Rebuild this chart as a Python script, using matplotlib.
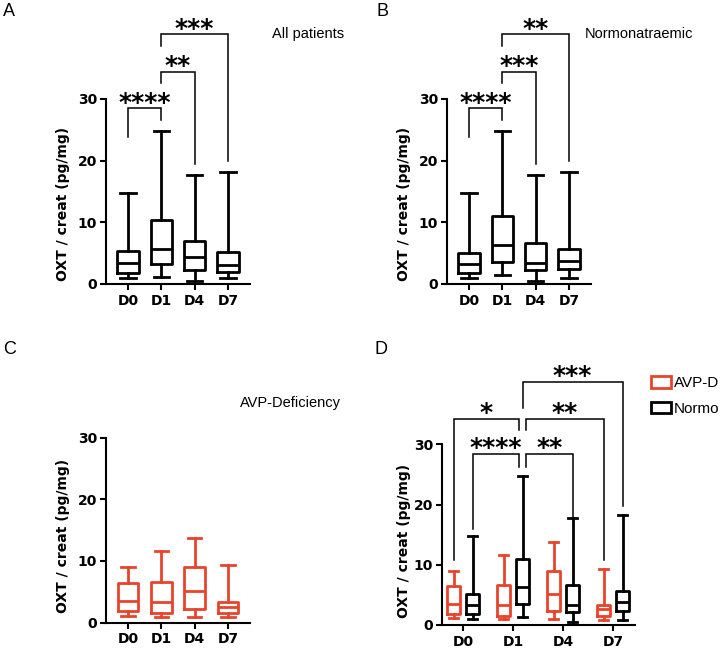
import matplotlib
matplotlib.use('Agg')
import matplotlib.pyplot as plt
from matplotlib.patches import Patch

plt.rcParams['font.family'] = ['Liberation Sans', 'DejaVu Sans']

days = ['D0', 'D1', 'D4', 'D7']
# per day: (min, q1, median, q3, max)
all_patients = [(1.0, 1.8, 3.4, 5.3, 14.8), (1.1, 3.3, 5.6, 10.3, 24.8),
                (0.5, 2.2, 4.3, 6.9, 17.7), (0.9, 1.9, 3.1, 5.2, 18.2)]
normo = [(1.0, 1.8, 3.3, 5.1, 14.8), (1.4, 3.5, 6.3, 11.0, 24.8),
         (0.5, 2.2, 3.4, 6.6, 17.7), (0.9, 2.4, 3.8, 5.7, 18.2)]
avp_d = [(1.1, 1.9, 3.5, 6.5, 9.0), (1.0, 1.5, 3.4, 6.6, 11.6),
         (1.0, 2.3, 5.2, 9.0, 13.8), (0.9, 1.5, 2.6, 3.3, 9.3)]

sig_all = ['****', '**', '***']      # D0-D1, D1-D4, D1-D7
sig_normo = ['****', '***', '**']
sig_mixed = ['*', '****', '**', '**', '***']

RED = '#E8432B'
BOLD = dict(fontfamily='DejaVu Sans', fontweight='bold')


def boxes(ax, stats, pos, color, width, capw):
    st = [dict(whislo=s[0], q1=s[1], med=s[2], q3=s[3], whishi=s[4], fliers=[]) for s in stats]
    props = dict(color=color, lw=2.0)
    ax.bxp(st, positions=pos, widths=width, capwidths=capw, showfliers=False,
           boxprops=props, whiskerprops=props, capprops=props, medianprops=props,
           manage_ticks=False)


def bracket(ax, x1, x2, top, y1, y2, label):
    ax.plot([x1, x1, x2, x2], [y1, top, top, y2], color='black', lw=1.1,
            clip_on=False, solid_joinstyle='miter')
    ax.annotate(label, ((x1 + x2) / 2, top), xytext=(0, -1), textcoords='offset points',
                ha='center', va='baseline', fontsize=18, annotation_clip=False, **BOLD)


def style(ax, xlim, ylim, label_xy):
    ax.set_xlim(*xlim)
    ax.set_ylim(*ylim)
    ax.patch.set_visible(False)
    for s in ['top', 'right']:
        ax.spines[s].set_visible(False)
    ax.spines['left'].set_bounds(0, 30)
    ax.spines['left'].set_linewidth(1.5)
    ax.spines['bottom'].set_linewidth(1.5)
    ax.set_yticks([0, 10, 20, 30])
    ax.set_xticks([1, 2, 3, 4])
    ax.set_xticklabels(days)
    ax.tick_params(axis='y', length=4.5, width=1.5, pad=2, labelsize=10)
    ax.tick_params(axis='x', length=4, width=1.5, pad=3, labelsize=10)
    for t in ax.get_xticklabels() + ax.get_yticklabels():
        t.set_fontfamily('DejaVu Sans')
        t.set_fontweight('bold')
    ax.set_ylabel('OXT / creat (pg/mg)', fontsize=10, **BOLD)
    ax.yaxis.set_label_coords(*label_xy)


W, H = 724, 648
fig = plt.figure(figsize=(W / 100, H / 100), dpi=100)


def axes_px(left, right, y0, ppu, ymax):
    return fig.add_axes([left / W, (H - y0) / H, (right - left) / W, ppu * ymax / H])


pos = [1, 2, 3, 4]

# A
axA = axes_px(106, 250, 284, 6.17, 45)
boxes(axA, all_patients, pos, 'black', 0.64, 0.46)
style(axA, (0.34, 4.66), (0, 45), (-0.25, 0.29))
bracket(axA, 1, 2, 28.5, 23.9, 26.5, sig_all[0])
bracket(axA, 2, 3, 34.4, 32.6, 19.4, sig_all[1])
bracket(axA, 2, 4, 40.5, 38.6, 20.0, sig_all[2])

# B
axB = axes_px(447, 591, 284, 6.17, 45)
boxes(axB, normo, pos, 'black', 0.64, 0.46)
style(axB, (0.34, 4.66), (0, 45), (-0.25, 0.29))
bracket(axB, 1, 2, 28.5, 23.9, 26.5, sig_normo[0])
bracket(axB, 2, 3, 34.4, 32.6, 19.4, sig_normo[1])
bracket(axB, 2, 4, 40.5, 38.6, 20.0, sig_normo[2])

# C
axC = axes_px(106, 250, 622.7, 6.17, 32)
boxes(axC, avp_d, pos, RED, 0.62, 0.40)
style(axC, (0.34, 4.66), (0, 32), (-0.25, 0.44))

# D
axD = axes_px(442, 635, 625, 6.02, 45)
off = 0.19
boxes(axD, avp_d, [p - off for p in pos], RED, 0.25, 0.17)
boxes(axD, normo, [p + off for p in pos], 'black', 0.25, 0.17)
style(axD, (0.58, 4.44), (0, 45), (-0.16, 0.31))
bracket(axD, 1 - off, 2.12, 34.3, 10.8, 32.4, sig_mixed[0])
bracket(axD, 1 + off, 2.12, 28.4, 16.0, 26.3, sig_mixed[1])
bracket(axD, 2.26, 3 + off, 28.4, 26.3, 17.4, sig_mixed[2])
bracket(axD, 2.26, 4 - off, 34.3, 32.4, 10.8, sig_mixed[3])
bracket(axD, 2 + off, 4 + off, 40.4, 36.0, 19.8, sig_mixed[4])

fig.legend(handles=[Patch(facecolor='white', edgecolor=RED, lw=2, label='AVP-D'),
                    Patch(facecolor='white', edgecolor='black', lw=2, label='Normo')],
           loc='upper left', bbox_to_anchor=(651 / W, 1 - 376 / H), frameon=False,
           fontsize=11, handlelength=1.3, handleheight=0.8, handletextpad=0.2,
           labelspacing=0.75, borderpad=0, borderaxespad=0)

# titles and panel letters
for x, y, s in [(272, 34, 'All patients'), (585, 34, 'Normonatraemic'),
                (240, 403, 'AVP-Deficiency')]:
    fig.text(x / W, 1 - y / H, s, fontsize=10.5, ha='left', va='center')
for x, y, s in [(3, 12, 'A'), (376, 12, 'B'), (3, 350, 'C'), (375, 350, 'D')]:
    fig.text(x / W, 1 - y / H, s, fontsize=13, ha='left', va='center')

fig.savefig('out.png', dpi=100)
